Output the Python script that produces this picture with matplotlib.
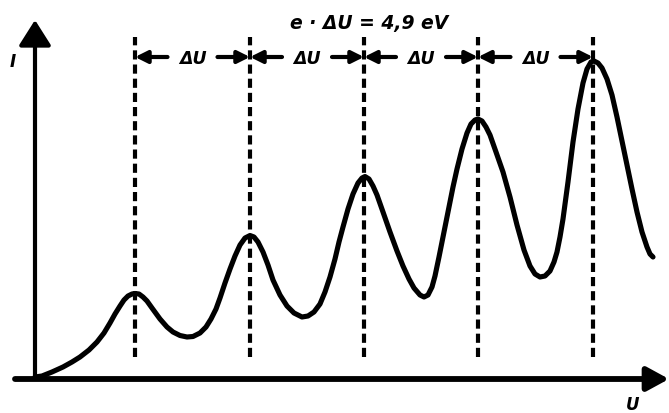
import matplotlib.pyplot as plt

# Franck-Hertz curve, U and I in arbitrary units (no ticks on the original)
U = [0, 7, 17, 28, 37, 45, 54, 62, 69, 75, 80, 85, 89, 93, 97, 100, 104, 108, 112, 117,
     125, 132, 138, 145, 152, 158, 165, 171, 176, 181, 185, 190, 195, 200, 205, 210, 215, 219, 223, 228,
     233, 238, 245, 252, 259, 267, 273, 279, 285, 290, 295, 300, 304, 308, 313, 318, 323, 327, 330, 334,
     338, 342, 348, 355, 362, 368, 374, 379, 385, 389, 393, 397, 400, 404, 408, 413, 418, 422, 427, 432,
     436, 440, 443, 447, 451, 455, 461, 468, 475, 482, 489, 495, 500, 505, 510, 515, 519, 522, 525, 528,
     533, 538, 543, 548, 552, 556, 559, 563, 567, 572, 577, 582, 587, 592, 597, 602, 607, 612, 615, 618]
I = [0, 1, 5, 10, 15, 20, 27, 35, 44, 54, 63, 71, 77, 81, 83, 83.5, 83, 80, 76, 69,
     58, 50, 45, 41.5, 40, 40.5, 44, 50, 58, 68, 79, 94, 108, 121, 132, 139, 141.5, 140, 135, 125,
     112, 97, 82, 71, 64, 60, 61, 65, 73, 85, 100, 118, 135, 150, 168, 183, 194, 199, 200.5, 198,
     191, 182, 165, 145, 126, 111, 98, 89, 82, 80, 82, 90, 101, 120, 140, 165, 190, 208, 228, 244,
     253, 257, 258, 256, 250, 242, 225, 205, 180, 152, 127, 111, 103, 100, 101, 106, 115, 125, 140, 158,
     195, 235, 268, 294, 308, 315, 316, 314, 309, 298, 282, 260, 236, 212, 188, 165, 145, 130, 123, 120]

peaks_U = [100, 215, 329, 443, 558]
delta_label = "ΔU"
title_text = "e · ΔU = 4,9 eV"

fig = plt.figure(figsize=(6.69, 4.14), dpi=100)
ax = fig.add_axes([0, 0, 1, 1])
ax.set_xlim(-35, 634)
ax.set_ylim(-36, 378)
ax.axis("off")

# axes with arrows
ax.annotate("", xy=(634, -2), xytext=(-20, -2),
            arrowprops=dict(arrowstyle="-|>,head_length=0.55,head_width=0.3", lw=4.2,
                            color="black", mutation_scale=24, shrinkA=0, shrinkB=0))
ax.annotate("", xy=(0, 357), xytext=(0, -2),
            arrowprops=dict(arrowstyle="-|>,head_length=0.6,head_width=0.38", lw=3,
                            color="black", mutation_scale=26, shrinkA=0, shrinkB=0))
ax.text(-22, 316, "I", fontsize=12, fontweight="bold", fontstyle="italic", ha="center", va="center")
ax.text(598, -27, "U", fontsize=12, fontweight="bold", fontstyle="italic", ha="center", va="center")

# dashed lines at the maxima
for p in peaks_U:
    ax.plot([p, p], [20, 340], color="black", lw=3, linestyle=(0, (2.2, 1.2)))

# the curve
ax.plot(U, I, color="black", lw=3.7, solid_joinstyle="round", solid_capstyle="round")

# delta U arrows
row = 320
arrow = dict(arrowstyle="-|>,head_length=0.8,head_width=0.4", lw=3, color="black",
             mutation_scale=9, shrinkA=0, shrinkB=0)
for a, b in zip(peaks_U[:-1], peaks_U[1:]):
    mid = (a + b) / 2
    ax.annotate("", xy=(a, row), xytext=(mid - 25, row), arrowprops=arrow)
    ax.annotate("", xy=(b, row), xytext=(mid + 25, row), arrowprops=arrow)
    ax.text(mid, row - 1, delta_label, fontsize=12.5, fontweight="bold", fontstyle="italic",
            ha="center", va="center")

ax.text(334, 354, title_text, fontsize=13.5, fontweight="bold", fontstyle="italic",
        ha="center", va="center")

fig.savefig("out.png", dpi=100)
